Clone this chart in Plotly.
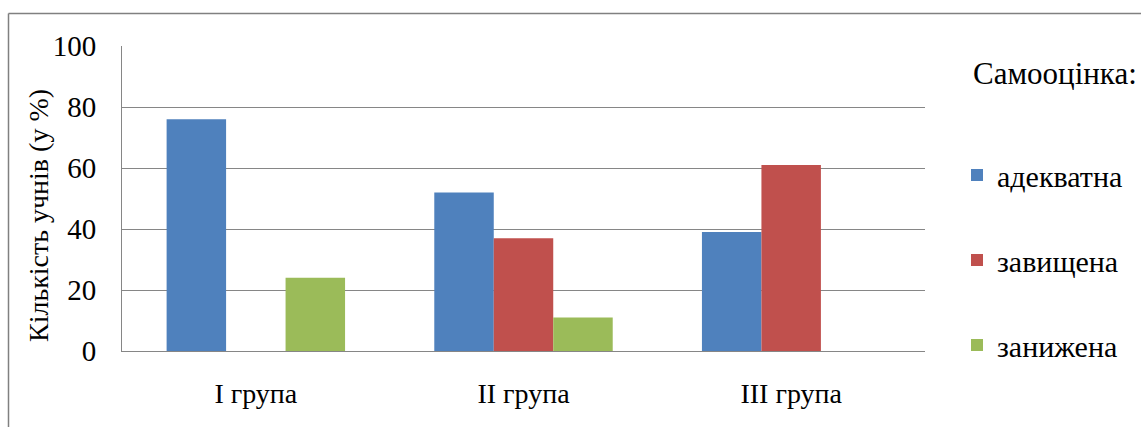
import plotly.graph_objects as go

# Категорії та відсотки учнів за рівнем самооцінки
groups = ["I група", "II група", "III група"]
adekvatna = [76, 52, 39]
zavyshchena = [0, 37, 61]
zanyzhena = [24, 11, 0]
series_names = ["адекватна", "завищена", "занижена"]
y_ticks = [0, 20, 40, 60, 80, 100]

colors = ["#4F81BD", "#C0504D", "#9BBB59"]
FONT = "Liberation Serif"

W, H = 1141, 427
L, R, T, B = 122, 925, 46, 351  # plot area in pixels


def px_x(p):
    return (p - L) / (R - L)


def px_y(q):
    return (B - q) / (B - T)


fig = go.Figure()
for i, (name, vals) in enumerate(zip(series_names, [adekvatna, zavyshchena, zanyzhena])):
    fig.add_trace(go.Bar(
        x=groups, y=vals, name=name,
        marker=dict(color=colors[i], line=dict(width=0)),
        legendgroup=name,
    ))

fig.update_layout(
    width=W, height=H,
    margin=dict(l=L, r=W - R, t=T, b=H - B, pad=0),
    paper_bgcolor="white", plot_bgcolor="white",
    font=dict(family=FONT, size=28, color="#000000"),
    barmode="group", bargap=1.5 / 4.5, bargroupgap=0,
    showlegend=True,
    legend=dict(
        x=px_x(957), y=px_y(149), xanchor="left", yanchor="top",
        font=dict(family=FONT, size=30, color="#000000"), tracegroupgap=43,
        itemwidth=30, bgcolor="rgba(0,0,0,0)",
    ),
    xaxis=dict(
        showgrid=False, showline=True, linecolor="#868686", linewidth=1,
        ticks="", tickfont=dict(family=FONT, size=28, color="#000000"),
        ticklabelstandoff=17,
    ),
    yaxis=dict(
        range=[0, 100], tickvals=y_ticks, showgrid=True,
        gridcolor="#868686", gridwidth=1, showline=True,
        linecolor="#868686", linewidth=1, ticks="", zeroline=False,
        tickfont=dict(family=FONT, size=29, color="#000000"), ticklabelstandoff=19,
    ),
    annotations=[
        dict(text="Самооцінка:", x=px_x(971), y=px_y(74), xref="paper", yref="paper",
             xanchor="left", yanchor="middle", showarrow=False,
             font=dict(family=FONT, size=31, color="#000000")),
        dict(text="Кількість учнів (у %)", x=px_x(39), y=px_y(216), xref="paper", yref="paper",
             xanchor="center", yanchor="middle", textangle=-90, showarrow=False,
             font=dict(family=FONT, size=28, color="#000000")),
    ],
    shapes=[
        dict(type="line", xref="paper", yref="paper", x0=px_x(8.5), x1=px_x(W + 5),
             y0=px_y(13.5), y1=px_y(13.5), line=dict(color="#808080", width=1.5)),
        dict(type="line", xref="paper", yref="paper", x0=px_x(8.5), x1=px_x(8.5),
             y0=px_y(13.5), y1=px_y(H + 5), line=dict(color="#808080", width=1.5)),
    ],
)

fig.write_html("out.html")
